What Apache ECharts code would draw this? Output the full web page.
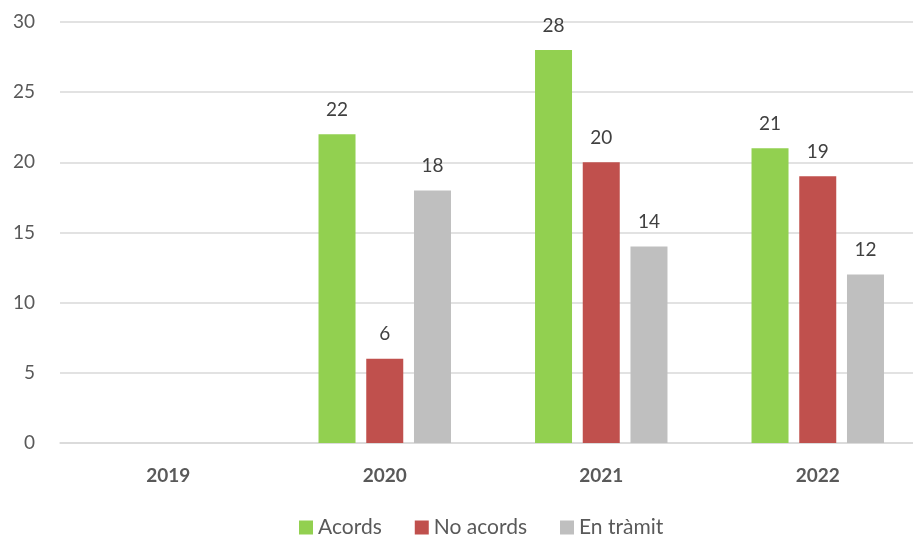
<!DOCTYPE html>
<html><head><meta charset="utf-8">
<script src="https://cdn.jsdelivr.net/npm/echarts@6/dist/echarts.min.js"></script>
<style>html,body{margin:0;padding:0;background:#fff}#c{width:913px;height:538px}</style>
</head><body><div id="c"></div>
<script>
const categories = ['2019', '2020', '2021', '2022'];
const acords = [null, 22, 28, 21];
const noAcords = [null, 6, 20, 19];
const enTramit = [null, 18, 14, 12];
const seriesNames = ['Acords', 'No acords', 'En tràmit'];
const colors = ['#92d050', '#c0504d', '#bfbfbf'];
const FONT = 'Lato, "Open Sans", sans-serif';
const chart = echarts.init(document.getElementById('c'));
const lbl = {show: true, position: 'top', distance: 15, color: '#404040', fontSize: 19, fontFamily: FONT};
chart.setOption({
  animation: false,
  color: colors,
  grid: {left: 60, width: 866, top: 22, height: 421, outerBoundsMode: 'none', containLabel: false},
  legend: {
    bottom: -5, left: 294, itemWidth: 14, itemHeight: 14, itemGap: 33,
    icon: 'rect',
    textStyle: {color: '#595959', fontSize: 21, fontFamily: FONT},
    data: seriesNames
  },
  xAxis: {
    type: 'category', data: categories,
    axisLine: {lineStyle: {color: '#d9d9d9', width: 1.5}},
    axisTick: {show: false},
    axisLabel: {color: '#595959', fontSize: 19, fontWeight: 'bold', fontFamily: FONT, margin: 23}
  },
  yAxis: {
    type: 'value', min: 0, max: 30, interval: 5,
    axisLine: {show: false}, axisTick: {show: false},
    splitLine: {lineStyle: {color: '#d9d9d9', width: 1.5}},
    axisLabel: {color: '#595959', fontSize: 19, fontFamily: FONT, margin: 25}
  },
  series: [
    {name: seriesNames[0], type: 'bar', data: acords, barWidth: 37, barGap: '29%', label: lbl},
    {name: seriesNames[1], type: 'bar', data: noAcords, barWidth: 37, barGap: '29%', label: lbl},
    {name: seriesNames[2], type: 'bar', data: enTramit, barWidth: 37, barGap: '29%', label: lbl}
  ]
});
</script></body></html>
